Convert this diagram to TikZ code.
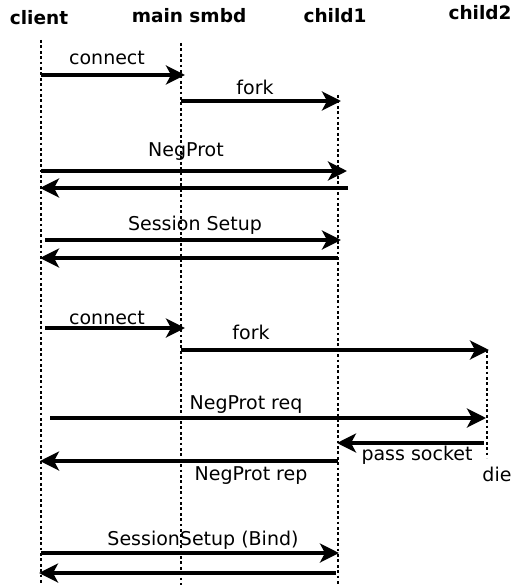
\documentclass[tikz,border=0pt]{standalone}
\usepackage{fontspec}
\setmainfont{DejaVu Sans}
\usetikzlibrary{arrows.meta}

\begin{document}
\begin{tikzpicture}[x=1pt,y=-1pt,
  life/.style={line width=2.8pt,dash pattern=on 2.8pt off 2.6pt},
  msg/.style={line width=3.4pt,-{Stealth[length=19pt,width=19pt,inset=5pt]}},
  lbl/.style={font=\fontsize{19}{22}\selectfont},
  head/.style={font=\bfseries\fontsize{18.5}{22}\selectfont}]
  \useasboundingbox (0,0) rectangle (515,585);

  % heads
  \node[head] (hclient) at (39,18) {client};
  \node[head] (hmain) at (189,16) {main smbd};
  \node[head] (hchild1) at (335,16) {child1};
  \node[head] (hchild2) at (480,13) {child2};

  % life lines
  \coordinate (client0) at (41,40);  \coordinate (client1) at (41,585);
  \coordinate (main0) at (181,43);   \coordinate (main1) at (181,585);
  \coordinate (child10) at (338,95); \coordinate (child11) at (338,585);
  \coordinate (child20) at (487,350); \coordinate (child21) at (487,458);
  \draw[life] (client0) -- (client1);
  \draw[life] (main0) -- (main1);
  \draw[life] (child10) -- (child11);
  \draw[life] (child20) -- (child21);

  % first client
  \coordinate (m1a) at (41,75);   \coordinate (m1b) at (185,75);
  \coordinate (m2a) at (181,101); \coordinate (m2b) at (341,101);
  \coordinate (m3a) at (41,171);  \coordinate (m3b) at (347,171);
  \coordinate (m4a) at (348,188); \coordinate (m4b) at (40,188);
  \coordinate (m5a) at (45,240);  \coordinate (m5b) at (341,240);
  \coordinate (m6a) at (338,258); \coordinate (m6b) at (40,258);
  \draw[msg] (m1a) -- (m1b);
  \draw[msg] (m2a) -- (m2b);
  \draw[msg] (m3a) -- (m3b);
  \draw[msg] (m4a) -- (m4b);
  \draw[msg] (m5a) -- (m5b);
  \draw[msg] (m6a) -- (m6b);
  \node[lbl] (l1) at (107,58) {connect};
  \node[lbl] (l2) at (255,87) {fork};
  \node[lbl] (l3) at (186,152) {NegProt};
  \node[lbl] (l5) at (195,225) {Session Setup};

  % second client
  \coordinate (m7a) at (45,328);   \coordinate (m7b) at (185,328);
  \coordinate (m8a) at (181,350);  \coordinate (m8b) at (489,350);
  \coordinate (m9a) at (50,418);   \coordinate (m9b) at (486,418);
  \coordinate (m10a) at (484,443); \coordinate (m10b) at (337,443);
  \coordinate (m11a) at (338,461); \coordinate (m11b) at (40,461);
  \coordinate (m12a) at (41,553);  \coordinate (m12b) at (339,553);
  \coordinate (m13a) at (336,573); \coordinate (m13b) at (39,573);
  \draw[msg] (m7a) -- (m7b);
  \draw[msg] (m8a) -- (m8b);
  \draw[msg] (m9a) -- (m9b);
  \draw[msg] (m10a) -- (m10b);
  \draw[msg] (m11a) -- (m11b);
  \draw[msg] (m12a) -- (m12b);
  \draw[msg] (m13a) -- (m13b);
  \node[lbl] (l7) at (107,318) {connect};
  \node[lbl] (l8) at (251,332) {fork};
  \node[lbl] (l9) at (246,405) {NegProt req};
  \node[lbl] (l10) at (417,455) {pass socket};
  \node[lbl] (l11) at (251,476) {NegProt rep};
  \node[lbl] (ldie) at (497,474) {die};
  \node[lbl] (l12) at (203,540) {SessionSetup (Bind)};
\end{tikzpicture}
\end{document}
